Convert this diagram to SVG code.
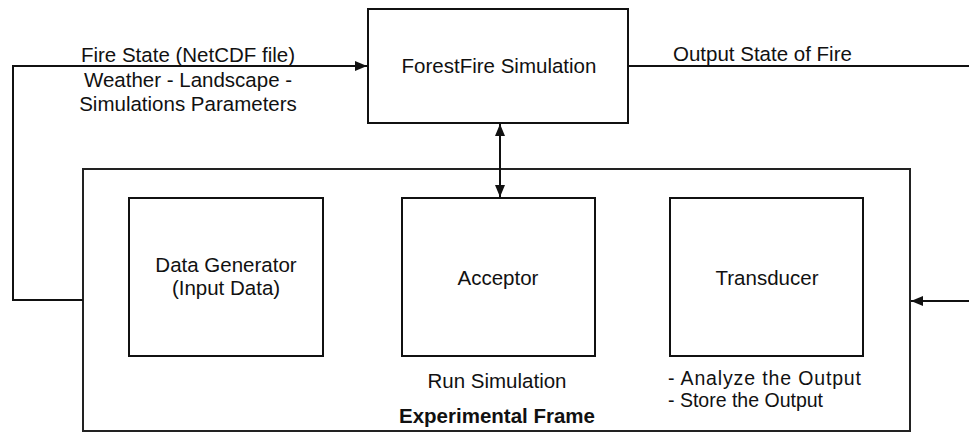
<svg xmlns="http://www.w3.org/2000/svg" width="969" height="432" viewBox="0 0 969 432">
<style>
.box{fill:#fff;stroke:#111;stroke-width:2}
.frame{fill:#fff;stroke:#222;stroke-width:2}
.ln{fill:none;stroke:#111;stroke-width:2}
text{font-family:"Liberation Sans",Arial,sans-serif;font-size:20.5px;fill:#111}
.c{text-anchor:middle}
.b{font-weight:bold}
.s{font-size:19.5px}
</style>
<defs>
<marker id="ah" viewBox="0 0 12 10" refX="12" refY="5" markerWidth="12" markerHeight="10" markerUnits="userSpaceOnUse" orient="auto-start-reverse">
<path d="M0,0 L12,5 L0,10 z" fill="#111"/>
</marker>
</defs>
<rect width="969" height="432" fill="#fff"/>
<g id="experimental-frame">
<rect class="frame" x="83" y="169" width="827" height="262"/>
<text class="c b" x="497" y="423">Experimental Frame</text>
</g>
<g id="forestfire">
<rect class="box" x="368" y="9" width="260" height="114"/>
<text class="c" x="499" y="73">ForestFire Simulation</text>
</g>
<g id="data-generator">
<rect class="box" x="129" y="198" width="194" height="158"/>
<text class="c" x="226" y="272">Data Generator</text>
<text class="c" x="226" y="295">(Input Data)</text>
</g>
<g id="acceptor">
<rect class="box" x="402" y="198" width="193" height="158"/>
<text class="c" x="498" y="285">Acceptor</text>
<text class="c" x="497" y="388">Run Simulation</text>
</g>
<g id="transducer">
<rect class="box" x="670" y="198" width="193" height="158"/>
<text class="c" x="767" y="285">Transducer</text>
<text class="s" x="668" y="385" textLength="193">- Analyze the Output</text>
<text class="s" x="668" y="407">- Store the Output</text>
</g>
<g id="connectors">
<path class="ln" d="M83,300 H13 V66 H367" marker-end="url(#ah)"/>
<path class="ln" d="M628,66 H969"/>
<path class="ln" d="M969,301 H911" marker-end="url(#ah)"/>
<path class="ln" d="M500,124 V197" marker-start="url(#ah)" marker-end="url(#ah)"/>
</g>
<g id="labels">
<text class="c" x="188" y="62">Fire State (NetCDF file)</text>
<text class="c" x="188" y="87">Weather -  Landscape -</text>
<text class="c" x="188" y="111">Simulations Parameters</text>
<text x="673" y="61">Output State of Fire</text>
</g>
</svg>
